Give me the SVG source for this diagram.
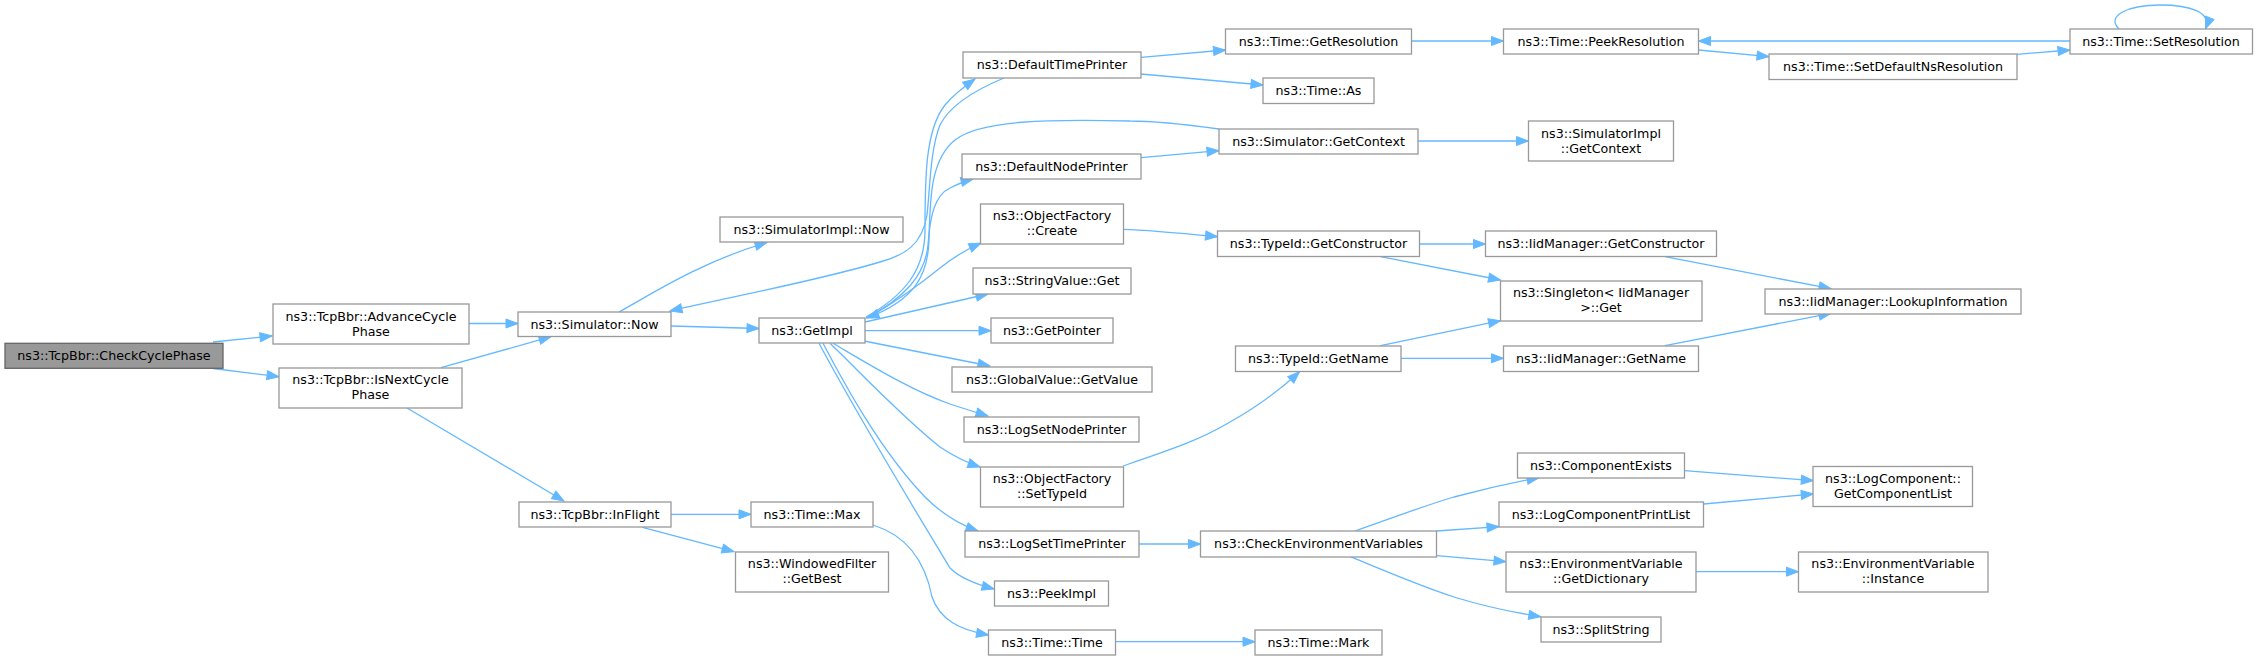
<svg xmlns="http://www.w3.org/2000/svg" width="2259" height="660" viewBox="0 0 2259 660">
<style>
.n rect{fill:#ffffff;stroke:#999999;stroke-width:1.3}
.n.sel rect{fill:#999999;stroke:#666666}
.n text{font-family:"DejaVu Sans","Liberation Sans",sans-serif;font-size:12.67px;fill:#000000;text-anchor:middle}
.e path{fill:none;stroke:#63b8ff;stroke-width:1.3;marker-end:url(#ah)}
</style>
<defs>
<marker id="ah" markerUnits="userSpaceOnUse" markerWidth="14" markerHeight="10" refX="12" refY="4.5" orient="auto" overflow="visible">
<path d="M0,0 L12,4.5 L0,9 z" fill="#63b8ff" stroke="#63b8ff" stroke-width="1"/>
</marker>
</defs>
<rect width="2259" height="660" fill="#ffffff"/>
<g id="edges" class="e">
<path d="M213,342 L272,336"/>
<path d="M213,368.5 L279,376.7"/>
<path d="M469,323.5 L518,323.5"/>
<path d="M441,367.7 L551,336.7"/>
<path d="M407,408 L564,501"/>
<path d="M619,312 C650,295 700,262 767,242.5"/>
<path d="M671,326 L759,328.5"/>
<path d="M1004,78 C975,90 950,105 940,125 C930,150 930,190 927,215 C922,245 905,255 880,262 C820,280 740,295 670,311"/>
<path d="M1219,129 C1190,125 1160,121 1130,121 C1050,119 980,120 955,140 C930,160 930,200 929,240 C928,275 915,300 867,318"/>
<path d="M866,317 C905,295 925,270 925,230 C925,180 925,130 945,105 C955,93 965,86 975,79"/>
<path d="M866,318 C905,298 925,275 928,245 C930,215 935,195 950,188 C958,184 965,181 973,179"/>
<path d="M867,318 C900,300 925,280 940,268 C955,256 965,250 981,243"/>
<path d="M865,322 L988,294"/>
<path d="M865,330.7 L991,330.7"/>
<path d="M864,341 L990,366"/>
<path d="M833,343.3 C865,362 910,390 950,404 C965,409 975,412 988,416"/>
<path d="M830,343.3 C860,372 900,415 940,447 C955,457 965,462 980,467"/>
<path d="M823,343.3 C845,385 880,450 925,497 C942,514 958,524 978,531"/>
<path d="M819,343.3 C860,420 915,510 950,568 C960,578 975,584 994,589"/>
<path d="M1141,57.3 L1225.5,50"/>
<path d="M1141,74 L1263,85"/>
<path d="M1141,157.7 L1219,150.7"/>
<path d="M1418,141 L1528.5,141"/>
<path d="M1411,41 L1503.5,41"/>
<path d="M1698.5,50 L1769,56.7"/>
<path d="M2017,54.3 L2070,50"/>
<path d="M2070,41 L1698.5,41"/>
<path d="M2119,29 C2105,15 2130,5 2160,5 C2190,5 2212,12 2205.5,29"/>
<path d="M1123,229.3 C1150,230 1180,233 1217.5,236.7"/>
<path d="M1419.5,244 L1485.5,244"/>
<path d="M1380.5,256.7 L1500.5,280"/>
<path d="M1665,256.7 L1831,288.7"/>
<path d="M1123,466 C1170,450 1200,440 1230,422 C1260,405 1280,390 1299.5,371.7"/>
<path d="M1380.5,345.7 L1500.5,320.7"/>
<path d="M1401,358.3 L1503.5,358.3"/>
<path d="M1665,345.7 L1831,313.3"/>
<path d="M1139,544 L1200.5,544"/>
<path d="M1355,531 C1390,519 1420,507 1454,497 C1480,490 1510,483 1539,477.7"/>
<path d="M1436.7,531 L1499,526.7"/>
<path d="M1436.7,555.7 L1506,561.7"/>
<path d="M1350.5,556.7 C1385,571 1420,586 1454,597 C1480,605 1510,612 1540.8,616.7"/>
<path d="M1684.5,470.7 L1813.3,480.7"/>
<path d="M1703.5,504 L1813.3,494"/>
<path d="M1696,571.7 L1798.5,571.7"/>
<path d="M671,514.3 L751,514.3"/>
<path d="M642.5,527.3 L734,551.7"/>
<path d="M873,525 C905,535 925,560 932,597 C940,620 960,630 988.5,635"/>
<path d="M1115.5,641.7 L1255,641.7"/>
</g>
<g id="n_check" class="n sel"><rect x="5" y="343.3" width="218" height="25"/><text x="114" y="360">ns3::TcpBbr::CheckCyclePhase</text></g>
<g id="n_adv" class="n"><rect x="273" y="304" width="196" height="40"/><text x="371" y="320.5">ns3::TcpBbr::AdvanceCycle</text><text x="371" y="335.5">Phase</text></g>
<g id="n_isnext" class="n"><rect x="279" y="368" width="183" height="40"/><text x="370.5" y="384">ns3::TcpBbr::IsNextCycle</text><text x="370.5" y="399">Phase</text></g>
<g id="n_now" class="n"><rect x="518" y="312" width="153" height="24.5"/><text x="594.5" y="328.5">ns3::Simulator::Now</text></g>
<g id="n_inflight" class="n"><rect x="519" y="502" width="152" height="25"/><text x="595" y="518.5">ns3::TcpBbr::InFlight</text></g>
<g id="n_simimplnow" class="n"><rect x="720" y="217" width="183" height="25"/><text x="811.5" y="233.7">ns3::SimulatorImpl::Now</text></g>
<g id="n_getimpl" class="n"><rect x="759" y="318" width="106" height="25"/><text x="812" y="334.5">ns3::GetImpl</text></g>
<g id="n_deftime" class="n"><rect x="963" y="52" width="178" height="26"/><text x="1052" y="69">ns3::DefaultTimePrinter</text></g>
<g id="n_defnode" class="n"><rect x="962" y="154" width="179" height="25"/><text x="1051.5" y="170.5">ns3::DefaultNodePrinter</text></g>
<g id="n_create" class="n"><rect x="980.5" y="204" width="143" height="40"/><text x="1052" y="220">ns3::ObjectFactory</text><text x="1052" y="235">::Create</text></g>
<g id="n_strget" class="n"><rect x="973" y="268" width="158" height="26"/><text x="1052" y="285">ns3::StringValue::Get</text></g>
<g id="n_getptr" class="n"><rect x="991" y="318" width="122" height="25"/><text x="1052" y="334.5">ns3::GetPointer</text></g>
<g id="n_globalval" class="n"><rect x="952" y="367" width="200" height="25"/><text x="1052" y="384">ns3::GlobalValue::GetValue</text></g>
<g id="n_lognode" class="n"><rect x="964" y="417" width="175" height="25"/><text x="1051.5" y="433.5">ns3::LogSetNodePrinter</text></g>
<g id="n_settypeid" class="n"><rect x="980.5" y="467" width="143" height="40"/><text x="1052" y="483">ns3::ObjectFactory</text><text x="1052" y="498">::SetTypeId</text></g>
<g id="n_logtime" class="n"><rect x="965" y="531" width="174" height="26"/><text x="1052" y="547.7">ns3::LogSetTimePrinter</text></g>
<g id="n_peekimpl" class="n"><rect x="994.5" y="581" width="114" height="25"/><text x="1051.5" y="597.5">ns3::PeekImpl</text></g>
<g id="n_max" class="n"><rect x="751" y="502" width="122" height="25"/><text x="812" y="518.5">ns3::Time::Max</text></g>
<g id="n_getbest" class="n"><rect x="735.5" y="552" width="153" height="40"/><text x="812" y="568">ns3::WindowedFilter</text><text x="812" y="583">::GetBest</text></g>
<g id="n_timetime" class="n"><rect x="988.5" y="630" width="127" height="25"/><text x="1052" y="646.5">ns3::Time::Time</text></g>
<g id="n_getres" class="n"><rect x="1225.5" y="29" width="186" height="25"/><text x="1318.5" y="45.5">ns3::Time::GetResolution</text></g>
<g id="n_as" class="n"><rect x="1263" y="78" width="111" height="25.5"/><text x="1318.5" y="94.5">ns3::Time::As</text></g>
<g id="n_getctx" class="n"><rect x="1219" y="129" width="199" height="25"/><text x="1318.5" y="145.5">ns3::Simulator::GetContext</text></g>
<g id="n_implctx" class="n"><rect x="1528.5" y="121" width="145" height="40"/><text x="1601" y="137.5">ns3::SimulatorImpl</text><text x="1601" y="152.5">::GetContext</text></g>
<g id="n_getctor" class="n"><rect x="1217.5" y="231" width="202" height="25.5"/><text x="1318.5" y="247.7">ns3::TypeId::GetConstructor</text></g>
<g id="n_peekres" class="n"><rect x="1503.5" y="29" width="195" height="25"/><text x="1601" y="45.5">ns3::Time::PeekResolution</text></g>
<g id="n_iidctor" class="n"><rect x="1485.5" y="231" width="231" height="25.5"/><text x="1601" y="247.7">ns3::IidManager::GetConstructor</text></g>
<g id="n_singleton" class="n"><rect x="1500.5" y="281" width="201.5" height="40"/><text x="1601" y="297">ns3::Singleton&lt; IidManager</text><text x="1601" y="312">&gt;::Get</text></g>
<g id="n_getname" class="n"><rect x="1235.5" y="346" width="165.5" height="25.5"/><text x="1318.3" y="362.5">ns3::TypeId::GetName</text></g>
<g id="n_iidname" class="n"><rect x="1503.5" y="346" width="195" height="25.5"/><text x="1601" y="362.5">ns3::IidManager::GetName</text></g>
<g id="n_compexists" class="n"><rect x="1517.5" y="453" width="167" height="25"/><text x="1601" y="469.5">ns3::ComponentExists</text></g>
<g id="n_logcpl" class="n"><rect x="1499" y="502" width="204.5" height="25"/><text x="1601" y="518.5">ns3::LogComponentPrintList</text></g>
<g id="n_getdict" class="n"><rect x="1506" y="552" width="190" height="40"/><text x="1601" y="568">ns3::EnvironmentVariable</text><text x="1601" y="583">::GetDictionary</text></g>
<g id="n_split" class="n"><rect x="1541" y="617" width="120" height="25"/><text x="1601" y="633.5">ns3::SplitString</text></g>
<g id="n_checkenv" class="n"><rect x="1200.5" y="531" width="236" height="26"/><text x="1318.5" y="547.7">ns3::CheckEnvironmentVariables</text></g>
<g id="n_mark" class="n"><rect x="1255" y="630" width="127" height="25"/><text x="1318.5" y="646.5">ns3::Time::Mark</text></g>
<g id="n_setdefns" class="n"><rect x="1769" y="54" width="248" height="25.5"/><text x="1893" y="70.5">ns3::Time::SetDefaultNsResolution</text></g>
<g id="n_setres" class="n"><rect x="2070" y="29" width="182.5" height="25"/><text x="2161" y="45.5">ns3::Time::SetResolution</text></g>
<g id="n_lookup" class="n"><rect x="1765" y="289" width="256" height="25"/><text x="1893" y="305.5">ns3::IidManager::LookupInformation</text></g>
<g id="n_getcomplist" class="n"><rect x="1813" y="466.5" width="159.5" height="40"/><text x="1893" y="482.5">ns3::LogComponent::</text><text x="1893" y="497.5">GetComponentList</text></g>
<g id="n_envinst" class="n"><rect x="1798.5" y="552" width="189.5" height="40"/><text x="1893" y="568">ns3::EnvironmentVariable</text><text x="1893" y="583">::Instance</text></g>
</svg>
